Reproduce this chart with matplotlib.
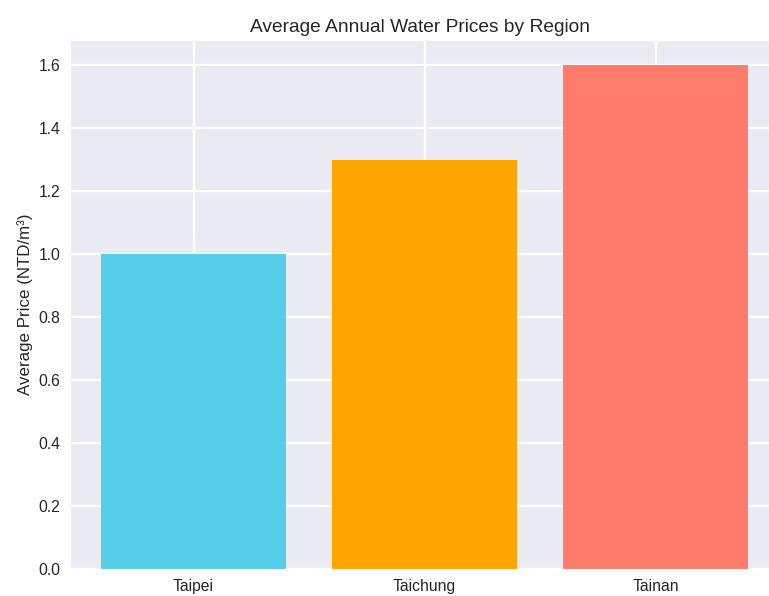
import matplotlib
matplotlib.use("Agg")
import matplotlib.pyplot as plt
import seaborn as sns

regions = ["Taipei", "Taichung", "Tainan"]
prices = [1.0, 1.3, 1.6]
colors = ["#57CEE8", "#FFA500", "#FF7B6B"]

sns.set_style("darkgrid")
plt.rcParams['font.family'] = ['Liberation Sans', 'DejaVu Sans']

fig = plt.figure(figsize=(7.69, 5.96), dpi=100)
ax = fig.add_axes([70/769, (596-569)/596, (769-70)/769, (569-40)/596])
ax.bar(regions, prices, color=colors, width=0.8, linewidth=0)
ax.set_xlim(-0.535, 2.49)
ax.grid(True, color="white", linewidth=1.6)
ax.set_title("Average Annual Water Prices by Region", fontsize=13.8, color="#262626")
ax.set_ylabel("Average Price (NTD/m³)", fontsize=12.2, color="#262626")
ax.tick_params(axis='both', labelsize=11.3, colors="#262626")
fig.savefig("out.png", dpi=100)
